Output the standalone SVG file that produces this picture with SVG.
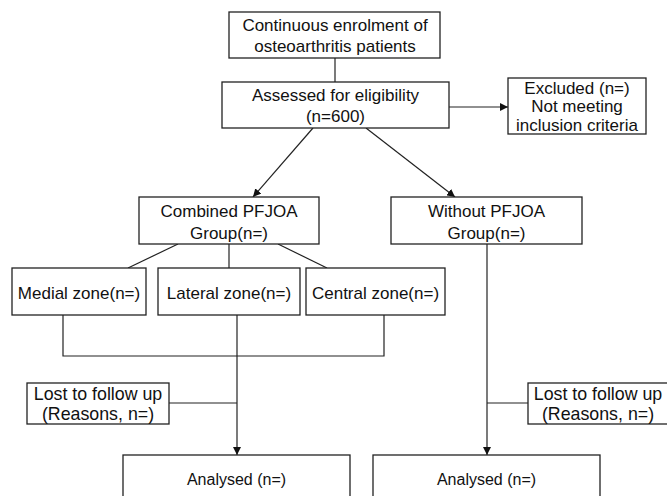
<svg xmlns="http://www.w3.org/2000/svg" width="667" height="496" viewBox="0 0 667 496">
<style>
.box{fill:#fff;stroke:#222;stroke-width:1.3}
.ln{fill:none;stroke:#222;stroke-width:1.2}
text{font-family:"Liberation Sans",Arial,sans-serif;font-size:17px;fill:#111;text-anchor:middle}
.sm{font-size:16px}
.lg{font-size:17.8px}
</style>
<defs>
<marker id="ah" viewBox="0 0 10 10" refX="10" refY="5" markerWidth="8" markerHeight="8" markerUnits="userSpaceOnUse" orient="auto">
<path d="M0,0 L10,5 L0,10 z" fill="#111"/>
</marker>
</defs>
<rect width="667" height="496" fill="#fff"/>
<g id="connectors">
<line class="ln" x1="335" y1="58" x2="335" y2="82"/>
<line class="ln" x1="449" y1="107" x2="508" y2="107" marker-end="url(#ah)"/>
<line class="ln" x1="313" y1="128" x2="253" y2="197" marker-end="url(#ah)"/>
<line class="ln" x1="366" y1="128" x2="455" y2="197" marker-end="url(#ah)"/>
<line class="ln" x1="178" y1="244" x2="128" y2="268"/>
<line class="ln" x1="229" y1="244" x2="229" y2="268"/>
<line class="ln" x1="278" y1="244" x2="327" y2="268"/>
<polyline class="ln" points="63,315 63,356 384,356 384,315"/>
<line class="ln" x1="237" y1="315" x2="237" y2="455" marker-end="url(#ah)"/>
<line class="ln" x1="169" y1="403" x2="237" y2="403"/>
<line class="ln" x1="487" y1="244" x2="487" y2="455" marker-end="url(#ah)"/>
<line class="ln" x1="487" y1="403" x2="528" y2="403"/>
</g>
<g id="enrolment">
<rect class="box" x="229" y="12" width="211" height="46"/>
<text x="335" y="31">Continuous enrolment of</text>
<text x="335" y="51.5">osteoarthritis patients</text>
</g>
<g id="assessed">
<rect class="box" x="222" y="82" width="227" height="46"/>
<text x="335.5" y="100.5">Assessed for eligibility</text>
<text x="335.5" y="121.5">(n=600)</text>
</g>
<g id="excluded">
<rect class="box" x="508" y="78" width="138" height="56"/>
<text x="577" y="94">Excluded (n=)</text>
<text x="577" y="112">Not meeting</text>
<text x="577" y="130.5">inclusion criteria</text>
</g>
<g id="combined">
<rect class="box" x="139" y="197" width="180" height="47"/>
<text x="229" y="216.5">Combined PFJOA</text>
<text x="229" y="239">Group(n=)</text>
</g>
<g id="without">
<rect class="box" x="391" y="197" width="191" height="47"/>
<text x="486.5" y="216.5">Without PFJOA</text>
<text x="486.5" y="239">Group(n=)</text>
</g>
<g id="medial">
<rect class="box" x="12" y="268" width="134" height="47"/>
<text x="79" y="298.5">Medial zone(n=)</text>
</g>
<g id="lateral">
<rect class="box" x="158" y="268" width="142" height="47"/>
<text x="229" y="298.5">Lateral zone(n=)</text>
</g>
<g id="central">
<rect class="box" x="306" y="268" width="139" height="47"/>
<text x="375.5" y="298.5">Central zone(n=)</text>
</g>
<g id="lost-left">
<rect class="box" x="27" y="383" width="142" height="41"/>
<text class="lg" x="98" y="399.5">Lost to follow up</text>
<text class="lg" x="98" y="420">(Reasons, n=)</text>
</g>
<g id="lost-right">
<rect class="box" x="528" y="383" width="141" height="41"/>
<text class="lg" x="598" y="399.5">Lost to follow up</text>
<text class="lg" x="598" y="420">(Reasons, n=)</text>
</g>
<g id="analysed-left">
<rect class="box" x="123" y="455" width="227" height="50"/>
<text class="sm" x="236.5" y="485">Analysed (n=)</text>
</g>
<g id="analysed-right">
<rect class="box" x="373" y="455" width="227" height="50"/>
<text class="sm" x="486.5" y="485">Analysed (n=)</text>
</g>
</svg>
